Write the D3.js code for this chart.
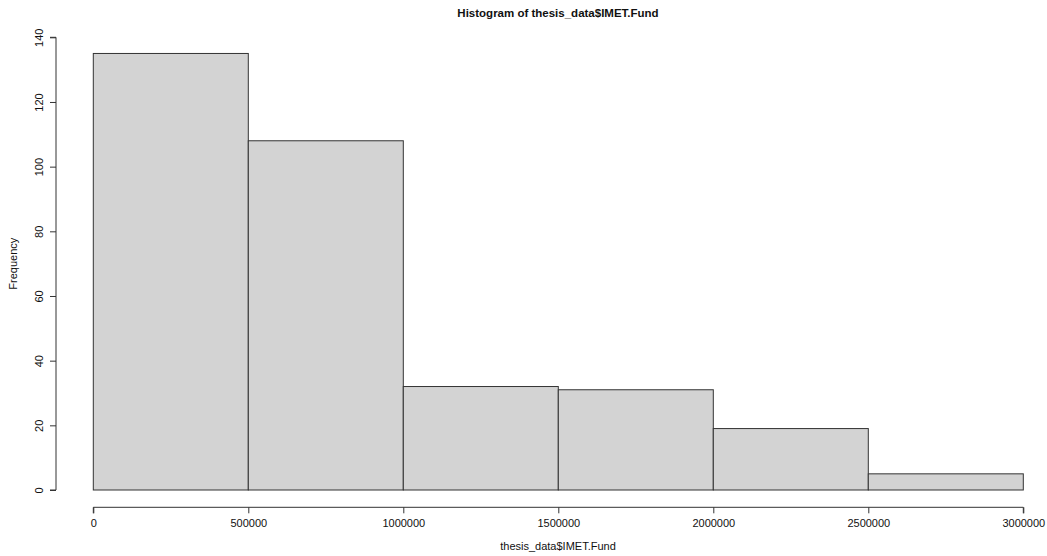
<!DOCTYPE html>
<html>
<head>
<meta charset="utf-8">
<script src="https://cdn.jsdelivr.net/npm/d3@7"></script>
<style>
  html, body { margin: 0; padding: 0; background: #fff; }
  svg { display: block; font-family: "Liberation Sans", Arial, sans-serif; }
</style>
</head>
<body>
<svg id="chart" width="1047" height="556"></svg>
<script>
// Histogram bins (lower/upper break) and counts
const binStarts = [0, 500000, 1000000, 1500000, 2000000, 2500000];
const binEnds   = [500000, 1000000, 1500000, 2000000, 2500000, 3000000];
const counts    = [135, 108, 32, 31, 19, 5];

const xTicks = [0, 500000, 1000000, 1500000, 2000000, 2500000, 3000000];
const yTicks = [0, 20, 40, 60, 80, 100, 120, 140];

const svg = d3.select("#chart");

const x = d3.scaleLinear().domain([0, 3000000]).range([93.3, 1023.3]);
const y = d3.scaleLinear().domain([0, 140]).range([490, 37.3]);

// Bars
svg.append("g").selectAll("rect")
  .data(counts)
  .join("rect")
  .attr("x", (d, i) => x(binStarts[i]))
  .attr("y", d => y(d))
  .attr("width", (d, i) => x(binEnds[i]) - x(binStarts[i]))
  .attr("height", d => y(0) - y(d))
  .attr("fill", "#d3d3d3")
  .attr("stroke", "#333")
  .attr("stroke-width", 1);

// X axis
const xAxis = svg.append("g")
  .attr("transform", "translate(0,507.3)")
  .call(d3.axisBottom(x).tickValues(xTicks).tickFormat(d3.format("d")).tickSize(6).tickPadding(6));
xAxis.select(".domain").attr("stroke", "#333").attr("d", `M${x(0)},6V0H${x(3000000)}V6`);
xAxis.selectAll(".tick line").attr("stroke", "#333");
xAxis.selectAll(".tick text").attr("font-size", 11).attr("fill", "#111")
  .attr("font-family", "Liberation Sans, Arial, sans-serif");

// Y axis with rotated labels
const yAxis = svg.append("g")
  .attr("transform", "translate(56,0)")
  .call(d3.axisLeft(y).tickValues(yTicks).tickSize(6).tickPadding(0));
yAxis.select(".domain").attr("stroke", "#333").attr("d", `M-6,${y(0)}H0V${y(140)}H-6`);
yAxis.selectAll(".tick line").attr("stroke", "#333");
yAxis.selectAll(".tick text")
  .attr("font-size", 11).attr("fill", "#111")
  .attr("font-family", "Liberation Sans, Arial, sans-serif")
  .attr("x", null).attr("dy", null)
  .attr("text-anchor", "middle")
  .attr("transform", "translate(-13,0) rotate(-90)");

// Title
svg.append("text")
  .attr("x", 558).attr("y", 17)
  .attr("text-anchor", "middle")
  .attr("font-size", 11.5).attr("font-weight", "bold").attr("fill", "#111")
  .text("Histogram of thesis_data$IMET.Fund");

// Axis titles
svg.append("text")
  .attr("x", 558).attr("y", 550)
  .attr("text-anchor", "middle")
  .attr("font-size", 11).attr("fill", "#111")
  .text("thesis_data$IMET.Fund");

svg.append("text")
  .attr("transform", `translate(17,${(y(0) + y(140)) / 2}) rotate(-90)`)
  .attr("text-anchor", "middle")
  .attr("font-size", 11).attr("fill", "#111")
  .text("Frequency");
</script>
</body>
</html>
